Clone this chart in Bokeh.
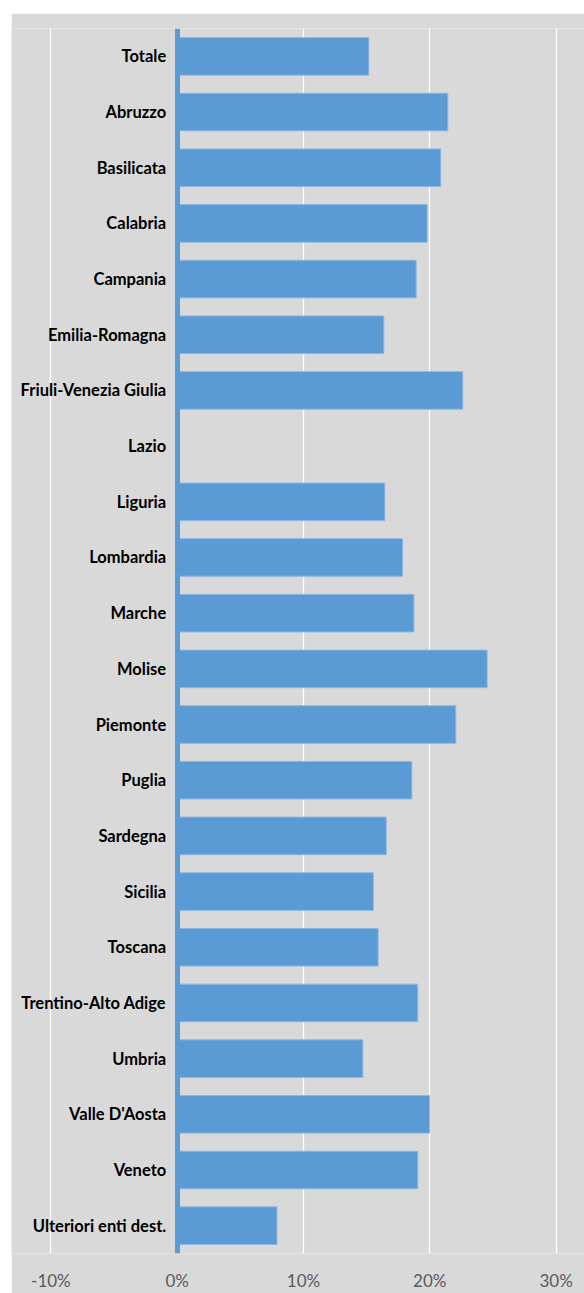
from bokeh.plotting import figure
from bokeh.models import ColumnDataSource, FactorRange, Range1d, FixedTicker, NumeralTickFormatter
from bokeh.embed import file_html
from bokeh.resources import INLINE

regions = ["Totale", "Abruzzo", "Basilicata", "Calabria", "Campania", "Emilia-Romagna",
           "Friuli-Venezia Giulia", "Lazio", "Liguria", "Lombardia", "Marche", "Molise",
           "Piemonte", "Puglia", "Sardegna", "Sicilia", "Toscana", "Trentino-Alto Adige",
           "Umbria", "Valle D'Aosta", "Veneto", "Ulteriori enti dest."]
values = [0.1517, 0.2143, 0.2087, 0.1979, 0.1892, 0.1636, 0.2261, float("nan"), 0.1644,
          0.1784, 0.1874, 0.2454, 0.2206, 0.1858, 0.1655, 0.1554, 0.1591, 0.1905,
          0.1470, 0.1998, 0.1905, 0.0790]
x_ticks = [-0.1, 0.0, 0.1, 0.2, 0.3]

src = ColumnDataSource(dict(region=regions, value=values))

p = figure(
    width=573, height=1280,
    margin=(13, 0, 0, 11),
    y_range=FactorRange(factors=list(reversed(regions)), range_padding=0),
    x_range=Range1d(-0.1312, 0.3225),
    output_backend="svg", toolbar_location=None,
    min_border_left=0, min_border_right=0, min_border_top=15, min_border_bottom=37,
    background_fill_color="#d9d9d9", border_fill_color="#d9d9d9",
)
p.outline_line_color = None

p.hbar(y="region", right="value", left=0, height=0.675, source=src,
       fill_color="#5b9bd5", line_color="#8db6e3", line_width=1)

# x axis
p.xaxis.ticker = FixedTicker(ticks=x_ticks)
p.xaxis.formatter = NumeralTickFormatter(format="0%")
p.xaxis.axis_line_color = None
p.xaxis.major_tick_line_color = None
p.xaxis.minor_tick_line_color = None
p.xaxis.major_tick_out = 0
p.xaxis.major_label_standoff = 16
p.xaxis.major_label_text_font = "Lato"
p.xaxis.major_label_text_font_size = "17px"
p.xaxis.major_label_text_color = "#595959"

p.xgrid.grid_line_color = "white"
p.xgrid.grid_line_width = 1.3
p.ygrid.grid_line_color = None

# y axis crossing at 0
p.yaxis.fixed_location = 0
p.yaxis.axis_line_color = "#5b9bd5"
p.yaxis.axis_line_width = 5
p.yaxis.major_tick_line_color = None
p.yaxis.minor_tick_line_color = None
p.yaxis.major_tick_out = 0
p.yaxis.major_label_standoff = 11
p.yaxis.major_label_text_font = "Lato"
p.yaxis.major_label_text_font_style = "bold"
p.yaxis.major_label_text_font_size = "16.5px"
p.yaxis.major_label_text_color = "#000000"

open("out.html", "w").write(file_html(p, INLINE))
